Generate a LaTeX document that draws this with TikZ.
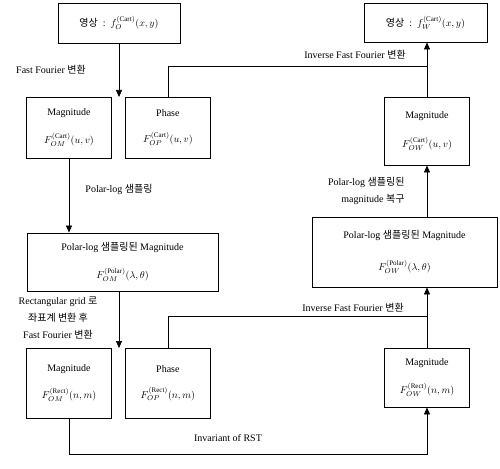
\documentclass[tikz,border=0pt]{standalone}
\usepackage{fontspec}
\setmainfont{Liberation Serif}
\newfontfamily\kr{Noto Sans CJK KR}
\usetikzlibrary{arrows.meta, positioning}

\begin{document}
\begin{tikzpicture}[x=1pt, y=-1pt, node distance=13pt]
    \tikzset{
        block/.style = {rectangle, draw, line width=0.9pt, align=center, inner sep=0pt, font=\rmfamily\fontsize{10}{12}\selectfont},
        smallblock/.style = {block, minimum width=85pt},
        line/.style = {draw, line width=0.7pt, -{Triangle[length=7pt, width=6pt]}},
        wire/.style = {draw, line width=0.7pt},
        note/.style = {align=center, font=\rmfamily\fontsize{10}{17}\selectfont}
    }
    \useasboundingbox (0,0) rectangle (500,468);

    \node[block, minimum width=122pt, minimum height=40pt] (srcimg) at (119,23) {{\kr 영상}\enspace:\enspace$f_{O}^{(\mathrm{Cart})}(x,y)$};
    \node[block, minimum width=123pt, minimum height=39pt] (dstimg) at (425.5,22.5) {{\kr 영상}\enspace:\enspace$f_{W}^{(\mathrm{Cart})}(x,y)$};

    \node[smallblock, minimum height=61pt] (magA) at (69,127.5) {Magnitude\\[14pt] $F_{OM}^{(\mathrm{Cart})}(u,v)$};
    \node[smallblock, minimum height=61pt, right=of magA] (phaseA) {Phase\\[14pt] $F_{OP}^{(\mathrm{Cart})}(u,v)$};
    \node[smallblock, minimum height=68pt] (magW) at (427,131) {Magnitude\\[16pt] $F_{OW}^{(\mathrm{Cart})}(u,v)$};

    \node[block, minimum width=191pt, minimum height=58pt] (polarA) at (122.5,262) {Polar-log {\kr 샘플링된} Magnitude\\[14pt] $F_{OM}^{(\mathrm{Polar})}(\lambda,\theta)$};
    \node[block, minimum width=185pt, minimum height=70pt] (polarW) at (404.5,252) {Polar-log {\kr 샘플링된} Magnitude\\[18pt] $F_{OW}^{(\mathrm{Polar})}(\lambda,\theta)$};

    \node[smallblock, minimum height=70pt] (magB) at (69,383) {Magnitude\\[14pt] $F_{OM}^{(\mathrm{Rect})}(n,m)$};
    \node[smallblock, minimum height=70pt, right=of magB] (phaseB) {Phase\\[14pt] $F_{OP}^{(\mathrm{Rect})}(n,m)$};
    \node[smallblock, minimum height=59pt] (magR) at (427,377.5) {Magnitude\\[14pt] $F_{OW}^{(\mathrm{Rect})}(n,m)$};

    % labels
    \node[note] (fftAlbl) at (51,70) {Fast Fourier {\kr 변환}};
    \node[note] (ifftAlbl) at (355,55) {Inverse Fast Fourier {\kr 변환}};
    \node[note] (samplelbl) at (119,189) {Polar-log {\kr 샘플링}};
    \node[note, align=right, anchor=east] (restorelbl) at (408,191) {Polar-log {\kr 샘플링된}\\magnitude {\kr 복구}};
    \node[note] (rectlbl) at (58,318) {Rectangular grid {\kr 로}\\{\kr 좌표계 변환 후}\\Fast Fourier {\kr 변환}};
    \node[note] (ifftBlbl) at (353,308) {Inverse Fast Fourier {\kr 변환}};
    \node[note] (rstlbl) at (228,438) {Invariant of RST};

    \coordinate (fftA) at (119,97);
    \coordinate (ifftA) at (427,66);
    \coordinate (fftB) at (119,348);
    \coordinate (ifftB) at (427,316);
    \coordinate (rstEnd) at (427,454);

    \path[line] (srcimg) -- (fftA);
    \path[wire] (phaseA) |- (ifftA);
    \path[line] (magW.north) -- (magW.north |- dstimg.south);
    \path[line] (magA.south) -- (magA.south |- polarA.north);
    \path[line] (fftB |- polarA.south) -- (fftB);
    \path[line] (magW.south |- polarW.north) -- (magW.south);
    \path[wire] (phaseB) |- (ifftB);
    \path[line] (magR.north) -- (magR.north |- polarW.south);
    \path[line] (magB.south) |- (rstEnd) -- (magR.south);
\end{tikzpicture}
\end{document}
